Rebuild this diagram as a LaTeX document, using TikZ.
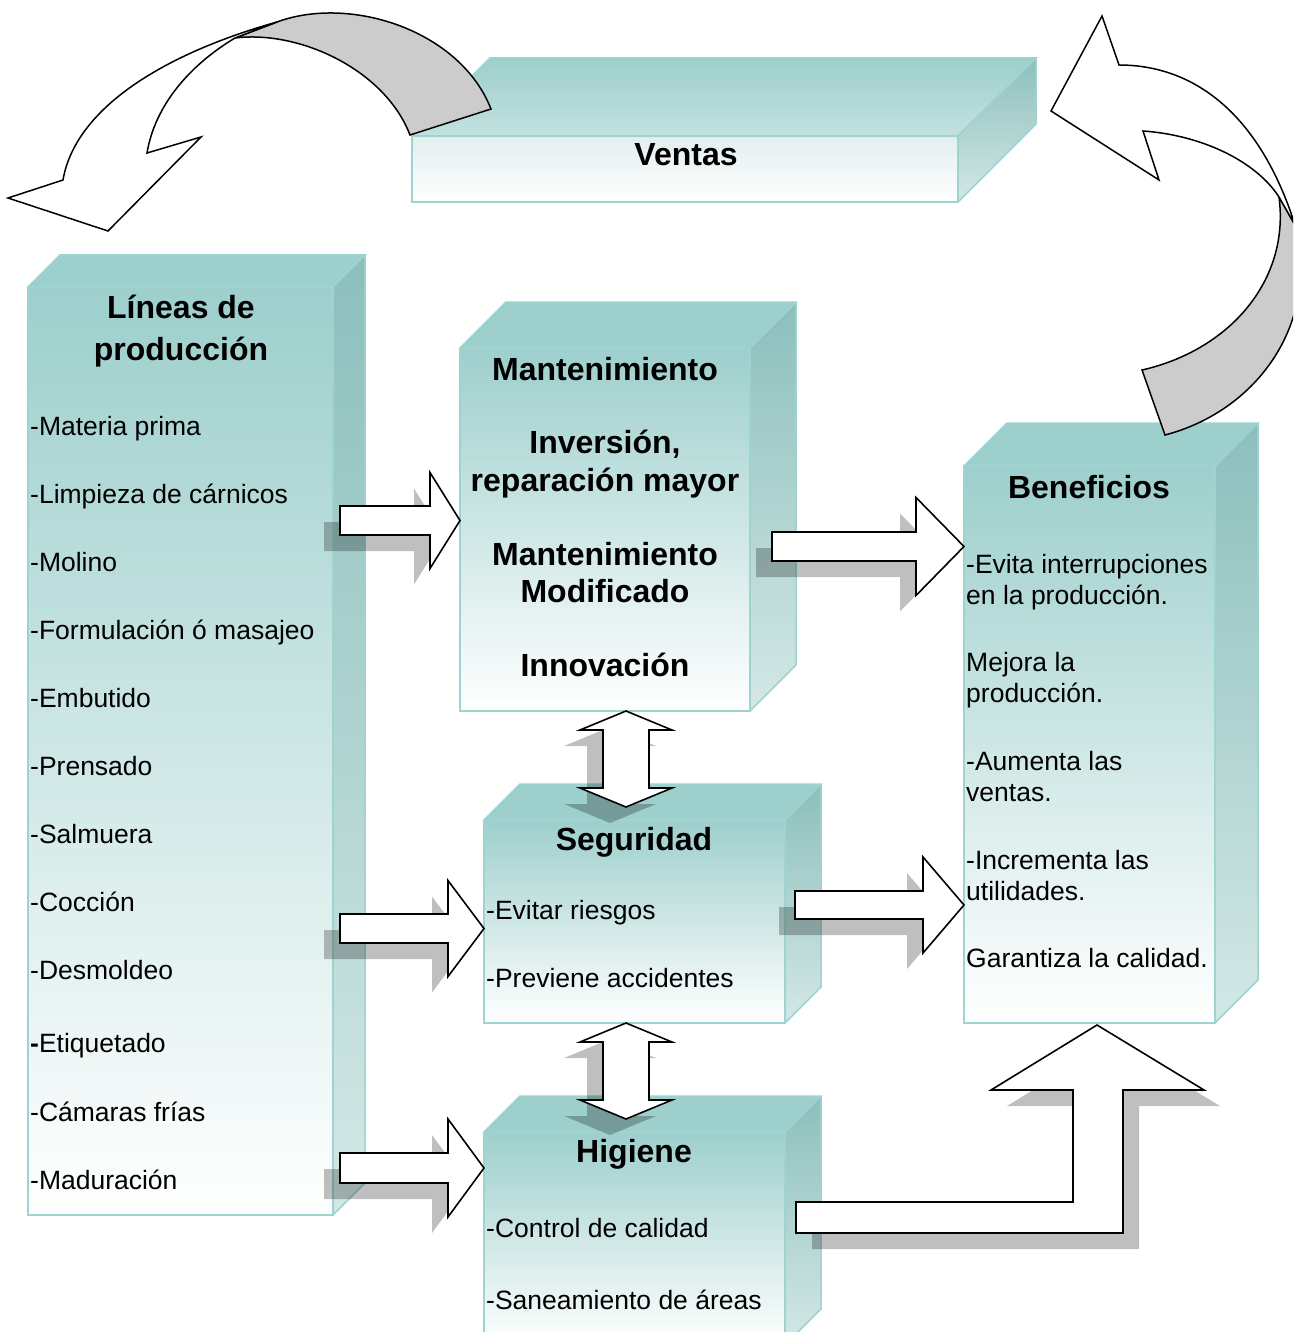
\documentclass[tikz,border=0pt]{standalone}
\usepackage{fontspec}
\setmainfont{Liberation Sans}
\definecolor{tealA}{HTML}{9DCFCC}
\definecolor{tealB}{HTML}{C3E1DF}
\definecolor{tealE}{HTML}{9ED3CF}
\definecolor{sideA}{HTML}{8CBFBC}
\definecolor{sideB}{HTML}{D3E8E6}
\definecolor{frontV}{HTML}{E2EEEE}
\definecolor{greyband}{HTML}{CCCCCC}
% x1, y1, x2, y2, depth, top-face front colour, front top colour
\newcommand{\cubebox}[7]{%
 \shade[top color=tealA, bottom color=#6] (#1,#2) -- ({#1+#5},{#2-#5}) -- ({#3+#5},{#2-#5}) -- (#3,#2) -- cycle;
 \shade[top color=#7, bottom color=white] (#1,#2) rectangle (#3,#4);
 \shade[top color=sideA, bottom color=sideB] (#3,#2) -- ({#3+#5},{#2-#5}) -- ({#3+#5},{#4-#5}) -- (#3,#4) -- cycle;
 \draw[boxedge] (#1,#2) rectangle (#3,#4);
 \draw[boxedge] (#1,#2) -- ({#1+#5},{#2-#5}) -- ({#3+#5},{#2-#5}) -- (#3,#2);
 \draw[boxedge] ({#3+#5},{#2-#5}) -- ({#3+#5},{#4-#5}) -- (#3,#4);
}
% right block arrow: x0, head base x, tip x, centre y, body half, head half
\newcommand{\rarrowpath}[6]{(#1,{#4-#5}) -- (#2,{#4-#5}) -- (#2,{#4-#6}) -- (#3,#4) -- (#2,{#4+#6}) -- (#2,{#4+#5}) -- (#1,{#4+#5}) -- cycle}
% vertical double arrow: centre x, top tip y, bottom tip y
\newcommand{\darrowpath}[3]{(#1,#2) -- ({#1+46},{#2+19}) -- ({#1+23},{#2+19}) -- ({#1+23},{#3-19}) -- ({#1+46},{#3-19}) -- (#1,#3) -- ({#1-46},{#3-19}) -- ({#1-23},{#3-19}) -- ({#1-23},{#2+19}) -- ({#1-46},{#2+19}) -- cycle}
\tikzset{
 boxedge/.style={draw=tealE, line width=1.5pt},
 barrow/.style={draw=black, fill=white, line width=1.6pt, line join=miter},
 bshadow/.style={fill=black, fill opacity=0.25, draw=none},
 curvewhite/.style={draw=black, fill=white, line width=1.5pt, line join=miter},
 curvegrey/.style={draw=black, fill=greyband, line width=1.5pt, line join=miter},
 body/.style={font=\fontsize{26.5}{31}\selectfont, inner sep=0pt, anchor=base west},
 head/.style={font=\fontsize{32}{38}\selectfont\bfseries, inner sep=0pt, anchor=base},
}
\begin{document}
\begin{tikzpicture}[x=1pt,y=-1pt]
\path[use as bounding box] (0,0) rectangle (1293,1332);
\clip (0,0) rectangle (1293,1332);
\fill[white] (0,0) rectangle (1293,1332);

% ---------- boxes ----------
\cubebox{412}{136}{958}{202}{78}{tealB}{frontV}
\cubebox{28}{287}{333}{1215}{32}{tealA}{tealA}
\cubebox{460}{348}{750}{711}{46}{tealA}{tealA}
\cubebox{484}{820}{785}{1023}{36}{tealA}{tealA}
\cubebox{484}{1132}{785}{1345}{36}{tealA}{tealA}
\cubebox{964}{466}{1215}{1023}{43}{tealA}{tealA}

% ---------- texts ----------
\node[head] (ventas) at (686,165.5) {Ventas};

\node[head] (lin1) at (181,318.5) {Líneas de};
\node[head] (lin2) at (181,360.5) {producción};
\node[body] (p1) at (30,435.5) {-Materia prima};
\node[body] (p2) at (30,503.5) {-Limpieza de cárnicos};
\node[body] (p3) at (30,571.5) {-Molino};
\node[body] (p4) at (30,639.5) {-Formulación ó masajeo};
\node[body] (p5) at (30,707.5) {-Embutido};
\node[body] (p6) at (30,775.5) {-Prensado};
\node[body] (p7) at (30,843.5) {-Salmuera};
\node[body] (p8) at (30,911.5) {-Cocción};
\node[body] (p9) at (30,979.5) {-Desmoldeo};
\node[body] (p10) at (30,1052.5) {{\bfseries -}Etiquetado};
\node[body] (p11) at (30,1121.5) {-Cámaras frías};
\node[body] (p12) at (30,1189.5) {-Maduración};

\node[head] (m1) at (605,380.5) {Mantenimiento};
\node[head] (m2) at (605,453.5) {Inversión,};
\node[head] (m3) at (605,491.5) {reparación mayor};
\node[head] (m4) at (605,565.5) {Mantenimiento};
\node[head] (m5) at (605,602.5) {Modificado};
\node[head] (m6) at (605,676.5) {Innovación};

\node[head] (seg) at (634,850.5) {Seguridad};
\node[body] (s1) at (486,919.5) {-Evitar riesgos};
\node[body] (s2) at (486,987.5) {-Previene accidentes};

\node[head] (hig) at (634,1162.5) {Higiene};
\node[body] (h1) at (486,1237.5) {-Control de calidad};
\node[body] (h2) at (486,1309.5) {-Saneamiento de áreas};

\node[head] (ben) at (1089,498.5) {Beneficios};
\node[body] (b1) at (966,573.5) {-Evita interrupciones};
\node[body] (b2) at (966,604.5) {en la producción.};
\node[body] (b3) at (966,671.5) {Mejora la};
\node[body] (b4) at (966,702.5) {producción.};
\node[body] (b5) at (966,770.5) {-Aumenta las};
\node[body] (b6) at (966,801.5) {ventas.};
\node[body] (b7) at (966,869.5) {-Incrementa las};
\node[body] (b8) at (966,900.5) {utilidades.};
\node[body] (b9) at (966,967.5) {Garantiza la calidad.};

% ---------- block arrow shadows ----------
\begin{scope}[shift={(-16,16)}]
\fill[bshadow] \rarrowpath{340}{430}{460}{520.5}{14.5}{48};
\fill[bshadow] \rarrowpath{772}{916}{964}{546.5}{14.5}{49};
\fill[bshadow] \rarrowpath{340}{448}{484}{928.5}{14.5}{48};
\fill[bshadow] \rarrowpath{795}{923}{964}{905}{14}{48};
\fill[bshadow] \rarrowpath{340}{448}{484}{1168}{15}{49};
\fill[bshadow] \darrowpath{626}{711}{807};
\fill[bshadow] \darrowpath{626}{1023}{1119};
\end{scope}
\begin{scope}[shift={(16,16)}]
\fill[bshadow] (796,1202) -- (1073,1202) -- (1073,1090) -- (991,1090) -- (1097,1025) -- (1204,1090) -- (1123,1090) -- (1123,1233) -- (796,1233) -- cycle;
\end{scope}

% ---------- block arrows ----------
\draw[barrow] \rarrowpath{340}{430}{460}{520.5}{14.5}{48};
\draw[barrow] \rarrowpath{772}{916}{964}{546.5}{14.5}{49};
\draw[barrow] \rarrowpath{340}{448}{484}{928.5}{14.5}{48};
\draw[barrow] \rarrowpath{795}{923}{964}{905}{14}{48};
\draw[barrow] \rarrowpath{340}{448}{484}{1168}{15}{49};
\draw[barrow] \darrowpath{626}{711}{807};
\draw[barrow] \darrowpath{626}{1023}{1119};
\draw[barrow] (796,1202) -- (1073,1202) -- (1073,1090) -- (991,1090) -- (1097,1025) -- (1204,1090) -- (1123,1090) -- (1123,1233) -- (796,1233) -- cycle;

% ---------- curved arrow, top left ----------
\draw[curvegrey] (491,109) .. controls (460,30) and (350,-5) .. (277,22)
  -- (235,38) .. controls (300,30) and (385,70) .. (410,135) -- cycle;
\draw[curvewhite] (277,22) .. controls (160,55) and (75,110) .. (63,180)
  -- (8,198) -- (108,231) -- (201,137) -- (147,153)
  .. controls (155,105) and (190,65) .. (235,38) -- cycle;

% ---------- curved arrow, top right ----------
\draw[curvegrey] (1279,197) -- (1295,225) .. controls (1320,320) and (1260,410) .. (1165,435)
  -- (1142,370) .. controls (1230,350) and (1290,280) .. (1279,197) -- cycle;
\draw[curvewhite] (1119,65) -- (1102,16) -- (1051,111) -- (1159,180) -- (1143,131)
  .. controls (1200,135) and (1255,160) .. (1279,197) -- (1295,225)
  .. controls (1260,115) and (1195,65) .. (1119,65) -- cycle;
\end{tikzpicture}
\end{document}
